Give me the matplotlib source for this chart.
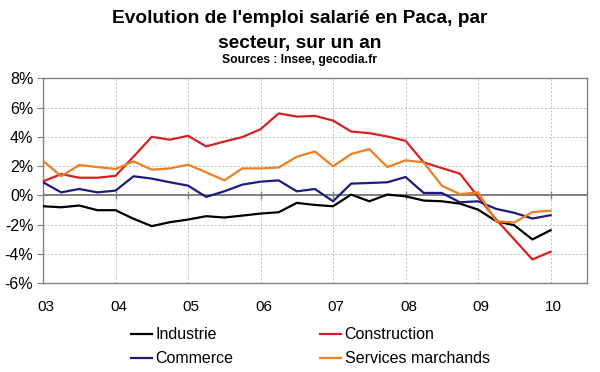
import matplotlib
matplotlib.use("Agg")
import matplotlib.pyplot as plt
import matplotlib.transforms as mtransforms
import numpy as np

plt.rcParams['font.family'] = ['Liberation Sans', 'DejaVu Sans']

# quarterly observations, 2003 Q1 .. 2010 Q1
quarters = [2003 + q / 4 for q in range(29)]

industrie = [-0.75, -0.82, -0.70, -1.02, -1.02, -1.61, -2.11, -1.84, -1.66, -1.43,
             -1.52, -1.39, -1.25, -1.16, -0.52, -0.66, -0.75, 0.05, -0.41, 0.05,
             -0.07, -0.36, -0.41, -0.57, -0.98, -1.77, -2.05, -3.02, -2.39]
construction = [0.95, 1.45, 1.20, 1.20, 1.33, 2.65, 4.00, 3.80, 4.07, 3.34,
                3.68, 3.98, 4.52, 5.60, 5.38, 5.43, 5.11, 4.36, 4.25, 4.02,
                3.73, 2.25, 1.86, 1.48, -0.11, -1.66, -3.02, -4.39, -3.86]
commerce = [0.89, 0.20, 0.43, 0.20, 0.32, 1.30, 1.14, 0.89, 0.66, -0.11,
            0.27, 0.73, 0.93, 1.02, 0.27, 0.43, -0.41, 0.80, 0.84, 0.89,
            1.25, 0.16, 0.16, -0.48, -0.41, -0.93, -1.20, -1.59, -1.36]
services = [2.36, 1.30, 2.07, 1.93, 1.80, 2.32, 1.75, 1.84, 2.09, 1.57,
            1.02, 1.84, 1.84, 1.90, 2.63, 3.00, 1.98, 2.82, 3.16, 1.93,
            2.39, 2.25, 0.66, 0.07, 0.20, -1.77, -1.86, -1.15, -1.05]

series_names = ["Industrie", "Construction", "Commerce", "Services marchands"]
series_colors = ["#000000", "#d62222", "#1c1c7c", "#ee7f22"]

years = [2003, 2004, 2005, 2006, 2007, 2008, 2009, 2010]
year_labels = ["03", "04", "05", "06", "07", "08", "09", "10"]
yticks = [-6, -4, -2, 0, 2, 4, 6, 8]
ytick_labels = ["-6%", "-4%", "-2%", "0%", "2%", "4%", "6%", "8%"]

fig = plt.figure(figsize=(6.0, 3.72), dpi=100)
ax = fig.add_axes([0.0717, 0.2392, 0.9063, 0.5503])

for data, name, col in zip([industrie, construction, commerce, services], series_names, series_colors):
    ax.plot(quarters, data, color=col, lw=1.6, label=name, zorder=3)

ax.set_xlim(2003, 2010.5)
ax.set_ylim(-6, 8)
ax.set_xticks(years)
ax.set_xticklabels(year_labels, fontsize=11)
ax.set_yticks(yticks)
ax.set_yticklabels(ytick_labels, fontsize=11.5)
ax.tick_params(axis='x', length=0, pad=12)
ax.tick_params(axis='y', length=4, color='#808080', pad=3)
shift = mtransforms.ScaledTranslation(3 / 100, 0, fig.dpi_scale_trans)
for lbl in ax.get_xticklabels():
    lbl.set_transform(lbl.get_transform() + shift)
ax.grid(True, color='#c0c0c0', linestyle=(0, (2, 2)), lw=0.7)
ax.set_axisbelow(True)
for sp in ax.spines.values():
    sp.set_color('#808080')
    sp.set_linewidth(1.0)

ax.axhline(0, color='#808080', lw=1.4, zorder=2)
ax.vlines(years, -0.28, 0.28, color='#808080', lw=1.0, zorder=2)

fig.text(0.5, 0.949, "Evolution de l'emploi salarié en Paca, par", ha='center', va='center',
         fontsize=13.8, fontweight='bold')
fig.text(0.5, 0.883, "secteur, sur un an", ha='center', va='center',
         fontsize=13.8, fontweight='bold')
fig.text(0.5, 0.840, "Sources : Insee, gecodia.fr", ha='center', va='center',
         fontsize=8.7, fontweight='bold')

handles, labels = ax.get_legend_handles_labels()
order = [0, 2, 1, 3]
leg = fig.legend([handles[i] for i in order], [labels[i] for i in order], ncol=2,
                 loc='center', bbox_to_anchor=(0.517, 0.068), frameon=False,
                 fontsize=11.5, handlelength=1.3, handletextpad=0.25,
                 columnspacing=5.4, labelspacing=0.55)

fig.savefig("out.png", dpi=100)
